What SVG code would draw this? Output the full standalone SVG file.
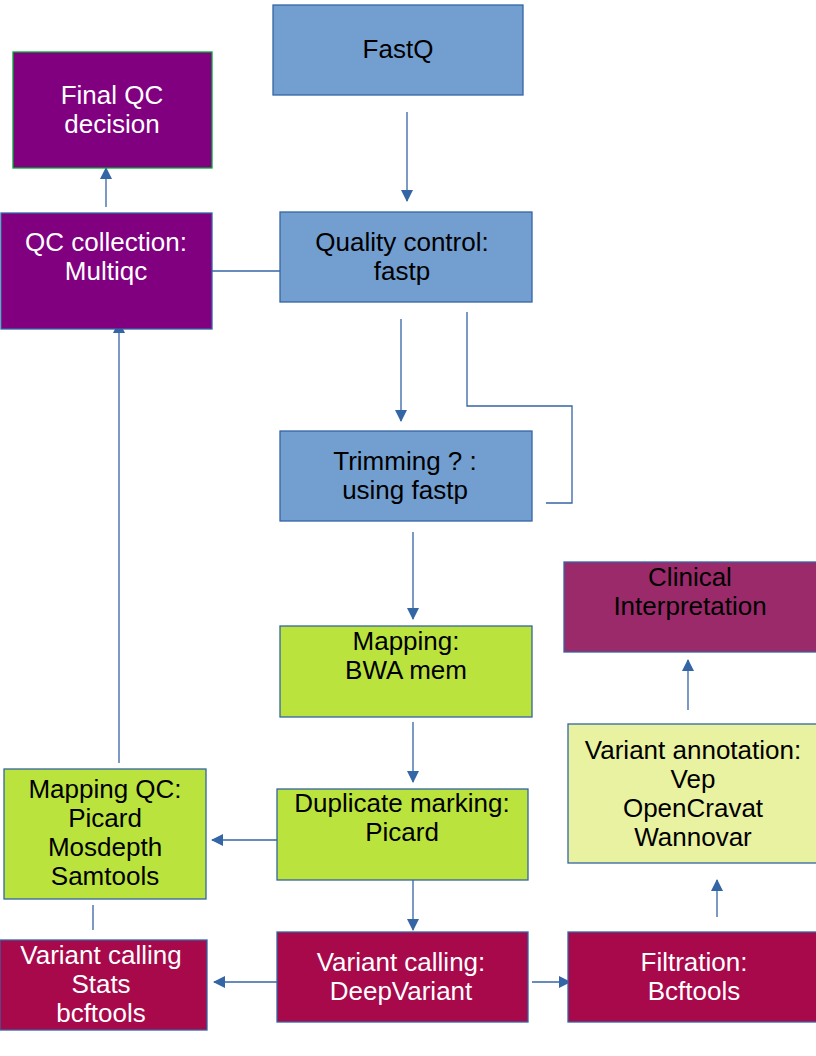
<svg xmlns="http://www.w3.org/2000/svg" width="816" height="1056" viewBox="0 0 816 1056">
<style>
.n rect{stroke:#3465a4;stroke-width:1.3}
.blue rect{fill:#729fcf}
.purple rect{fill:#800080}
.lime rect{fill:#bbe33d}
.crim rect{fill:#a7094b}
.plum rect{fill:#9b2a6b}
.pale rect{fill:#e8f2a1}
text{font-family:"Liberation Sans",Arial,sans-serif;font-size:26px;text-anchor:middle}
.dk text{fill:#000}
.lt text{fill:#fff}
.c line,.c polyline{stroke:#3465a4;stroke-width:1.3;fill:none}
</style>
<defs>
<marker id="a" viewBox="0 0 12 12" refX="11" refY="6" markerWidth="12" markerHeight="12" markerUnits="userSpaceOnUse" orient="auto">
<path d="M0,0 L12,6 L0,12 Z" fill="#3465a4"/>
</marker>
</defs>
<rect width="816" height="1056" fill="#fff"/>
<g class="c" id="connectors">
<line x1="407" y1="112" x2="407" y2="201" marker-end="url(#a)"/>
<line x1="106" y1="207" x2="106" y2="168" marker-end="url(#a)"/>
<line x1="212" y1="271" x2="291" y2="271"/>
<line x1="119" y1="763" x2="119" y2="322" marker-end="url(#a)"/>
<line x1="401" y1="319" x2="401" y2="421" marker-end="url(#a)"/>
<polyline points="467,312 467,406 572,406 572,503 546,503"/>
<line x1="413" y1="532" x2="413" y2="619" marker-end="url(#a)"/>
<line x1="413" y1="722" x2="413" y2="782" marker-end="url(#a)"/>
<line x1="283" y1="840" x2="212" y2="840" marker-end="url(#a)"/>
<line x1="93" y1="905" x2="93" y2="930"/>
<line x1="413" y1="880" x2="413" y2="930" marker-end="url(#a)"/>
<line x1="279" y1="982" x2="214" y2="982" marker-end="url(#a)"/>
<line x1="532" y1="982" x2="570" y2="982" marker-end="url(#a)"/>
<line x1="717" y1="917" x2="717" y2="880" marker-end="url(#a)"/>
<line x1="688" y1="710" x2="688" y2="660" marker-end="url(#a)"/>
</g>
<g id="fastq" class="n blue dk"><rect x="273" y="5" width="250" height="90"/><text x="398" y="58">FastQ</text></g>
<g id="final-qc" class="n purple lt"><rect x="13" y="52" width="199" height="116" style="stroke:#00a933"/><text x="112" y="104">Final QC</text><text x="112" y="133">decision</text></g>
<g id="qc-collection" class="n purple lt"><rect x="1" y="213" width="211" height="116"/><text x="106" y="251">QC collection:</text><text x="106" y="280">Multiqc</text></g>
<g id="quality-control" class="n blue dk"><rect x="280" y="212" width="252" height="90"/><text x="402" y="251">Quality control:</text><text x="402" y="280">fastp</text></g>
<g id="trimming" class="n blue dk"><rect x="280" y="431" width="252" height="90"/><text x="405" y="470">Trimming ? :</text><text x="405" y="499">using fastp</text></g>
<g id="mapping" class="n lime dk"><rect x="280" y="626" width="252" height="91"/><text x="406" y="650">Mapping:</text><text x="406" y="679">BWA mem</text></g>
<g id="duplicate-marking" class="n lime dk"><rect x="277" y="789" width="251" height="91"/><text x="402" y="812">Duplicate marking:</text><text x="402" y="841">Picard</text></g>
<g id="mapping-qc" class="n lime dk"><rect x="4" y="769" width="202" height="130"/><text x="105" y="798">Mapping QC:</text><text x="105" y="827">Picard</text><text x="105" y="856">Mosdepth</text><text x="105" y="885">Samtools</text></g>
<g id="variant-calling-stats" class="n crim lt"><rect x="0" y="940" width="207" height="90"/><text x="101" y="964">Variant calling</text><text x="101" y="993">Stats</text><text x="101" y="1022">bcftools</text></g>
<g id="variant-calling" class="n crim lt"><rect x="277" y="932" width="251" height="90"/><text x="401" y="971">Variant calling:</text><text x="401" y="1000">DeepVariant</text></g>
<g id="filtration" class="n crim lt"><rect x="568" y="932" width="250" height="90"/><text x="694" y="971">Filtration:</text><text x="694" y="1000">Bcftools</text></g>
<g id="variant-annotation" class="n pale dk"><rect x="568" y="724" width="250" height="139"/><text x="693" y="759">Variant annotation:</text><text x="693" y="788">Vep</text><text x="693" y="817">OpenCravat</text><text x="693" y="846">Wannovar</text></g>
<g id="clinical-interpretation" class="n plum dk"><rect x="564" y="562" width="254" height="90"/><text x="690" y="586">Clinical</text><text x="690" y="615">Interpretation</text></g>
</svg>
